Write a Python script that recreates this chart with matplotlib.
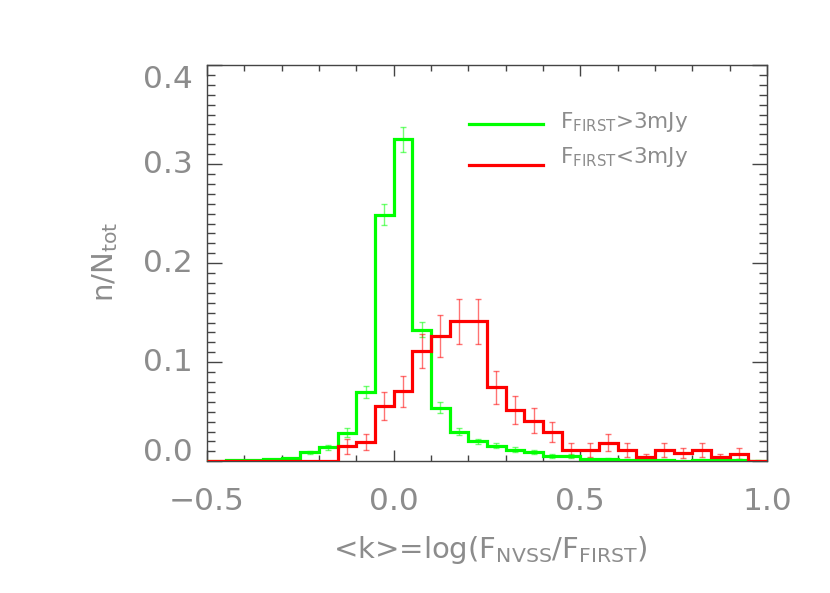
import numpy as np
import matplotlib
matplotlib.use("Agg")
import matplotlib.pyplot as plt
from matplotlib.ticker import MultipleLocator, FuncFormatter, FormatStrFormatter

plt.rcParams['font.family'] = ['DejaVu Sans']
plt.rcParams['mathtext.fontset'] = 'custom'
plt.rcParams['mathtext.rm'] = 'DejaVu Sans'
plt.rcParams['mathtext.default'] = 'regular'

# bin edges of the histogram (k = log(F_NVSS/F_FIRST))
bin_edges = [-0.50, -0.45, -0.40, -0.35, -0.30, -0.25, -0.20, -0.15, -0.10, -0.05,
             0.00, 0.05, 0.10, 0.15, 0.20, 0.25, 0.30, 0.35, 0.40, 0.45,
             0.50, 0.55, 0.60, 0.65, 0.70, 0.75, 0.80, 0.85, 0.90, 0.95, 1.00]

# F_FIRST > 3 mJy (green)
bright_frac = [0.0, 0.001, 0.001, 0.002, 0.003, 0.009, 0.014, 0.029, 0.070, 0.249,
               0.325, 0.133, 0.054, 0.030, 0.020, 0.0157, 0.0117, 0.0094, 0.0054, 0.0054,
               0.0023, 0.0020, 0.0015, 0.0012, 0.0010, 0.0008, 0.0010, 0.0010, 0.0012, 0.0008]
bright_err = [np.nan, np.nan, np.nan, np.nan, np.nan, 0.0013, 0.0025, 0.0042, 0.0059, 0.0104,
              0.0125, 0.0079, 0.0054, 0.0039, 0.0027, 0.0027, 0.0024, 0.0020, 0.0020, 0.0020,
              0.0010, 0.0010, 0.0010, 0.0010, 0.0010, 0.0010, 0.0010, 0.0010, 0.0010, 0.0010]

# F_FIRST < 3 mJy (red)
faint_frac = [0.0, 0.0, 0.0, 0.0, 0.0, 0.0, 0.0, 0.015, 0.0195, 0.056,
              0.0705, 0.1114, 0.1265, 0.1415, 0.1415, 0.0746, 0.0518, 0.041, 0.0296, 0.0114,
              0.0114, 0.0188, 0.0114, 0.004, 0.0114, 0.008, 0.0114, 0.004, 0.0078, 0.0005]
faint_err = [np.nan, np.nan, np.nan, np.nan, np.nan, np.nan, np.nan, 0.0076, 0.0081, 0.0141,
             0.016, 0.0168, 0.0215, 0.0227, 0.0227, 0.0167, 0.0138, 0.0125, 0.0104, 0.0066,
             0.0066, 0.0086, 0.0066, 0.0034, 0.0066, 0.005, 0.0066, 0.0034, 0.0057, np.nan]

labels = [r'$F_{FIRST}$>3mJy', r'$F_{FIRST}$<3mJy']

edges = np.array(bin_edges)
centers = 0.5 * (edges[:-1] + edges[1:])

fig = plt.figure(figsize=(8.30, 5.93), dpi=100)
ax = fig.add_axes([0.2494, 0.2221, 0.6747, 0.6683])

green = '#00ff00'
red = '#ff0000'
txt = '#8c8c8c'

ax.errorbar(centers, bright_frac, yerr=bright_err, fmt='none', ecolor=green,
            alpha=0.55, elinewidth=1.0, capsize=2.5, capthick=1.0, zorder=2)
ax.errorbar(centers, faint_frac, yerr=faint_err, fmt='none', ecolor=red,
            alpha=0.55, elinewidth=1.0, capsize=2.5, capthick=1.0, zorder=2)
ax.stairs(bright_frac, edges, baseline=None, color=green, lw=2.3, zorder=3)
ax.stairs(faint_frac, edges, baseline=None, color=red, lw=2.3, zorder=4)

ax.set_xlim(-0.5, 1.0)
ax.set_ylim(0, 0.4)

ax.xaxis.set_major_locator(MultipleLocator(0.5))
ax.xaxis.set_minor_locator(MultipleLocator(0.1))
ax.yaxis.set_major_locator(MultipleLocator(0.1))
ax.yaxis.set_minor_locator(MultipleLocator(0.01))
ax.xaxis.set_major_formatter(FuncFormatter(
    lambda v, p: ('\u2212' if v < -1e-9 else '') + f'{abs(v):.1f}'))
ax.yaxis.set_major_formatter(FormatStrFormatter('%.1f'))

spine_col = '#444444'
for s in ax.spines.values():
    s.set_color(spine_col)
    s.set_linewidth(1.0)

ax.tick_params(which='both', direction='in', top=True, right=True, color=spine_col,
               labelcolor=txt, labelsize=22.5)
ax.tick_params(axis='x', which='major', length=8, pad=18.5, width=1.0)
ax.tick_params(axis='x', which='minor', length=4, width=1.0)
ax.tick_params(axis='y', which='major', length=11, pad=10, width=1.0)
ax.tick_params(axis='y', which='minor', length=6, width=1.0)

# end labels of the y axis are kept inside the axis span, as in the original
fig.canvas.draw()
yticks = ax.yaxis.get_major_ticks()
yvals = ax.get_yticks()
for t, v in zip(yticks, yvals):
    if abs(v - 0.4) < 1e-9:
        t.label1.set_va('top')
    elif abs(v) < 1e-9:
        t.label1.set_va('baseline')
    else:
        t.label1.set_va('center')

ax.set_xlabel(r'<k>=log($F_{NVSS}$/$F_{FIRST}$)', fontsize=21, color=txt, va='baseline')
ax.xaxis.set_label_coords(0.5054, -0.2448)
ax.set_ylabel(r'n/$N_{tot}$', fontsize=21, color=txt, va='center')
ax.yaxis.set_label_coords(-0.1820, 0.504)

# legend drawn manually in axes-fraction coordinates
leg_line_y = [0.8504, 0.7477]
leg_text_y = [0.841, 0.7527]
for lab, col, ly, ty in zip(labels, [green, red], leg_line_y, leg_text_y):
    ax.plot([0.468, 0.600], [ly, ly], transform=ax.transAxes, color=col, lw=2.3)
    ax.text(0.630, ty, lab, transform=ax.transAxes, fontsize=15.5, color=txt,
            va='baseline', ha='left')

fig.savefig('out.png', dpi=100)
